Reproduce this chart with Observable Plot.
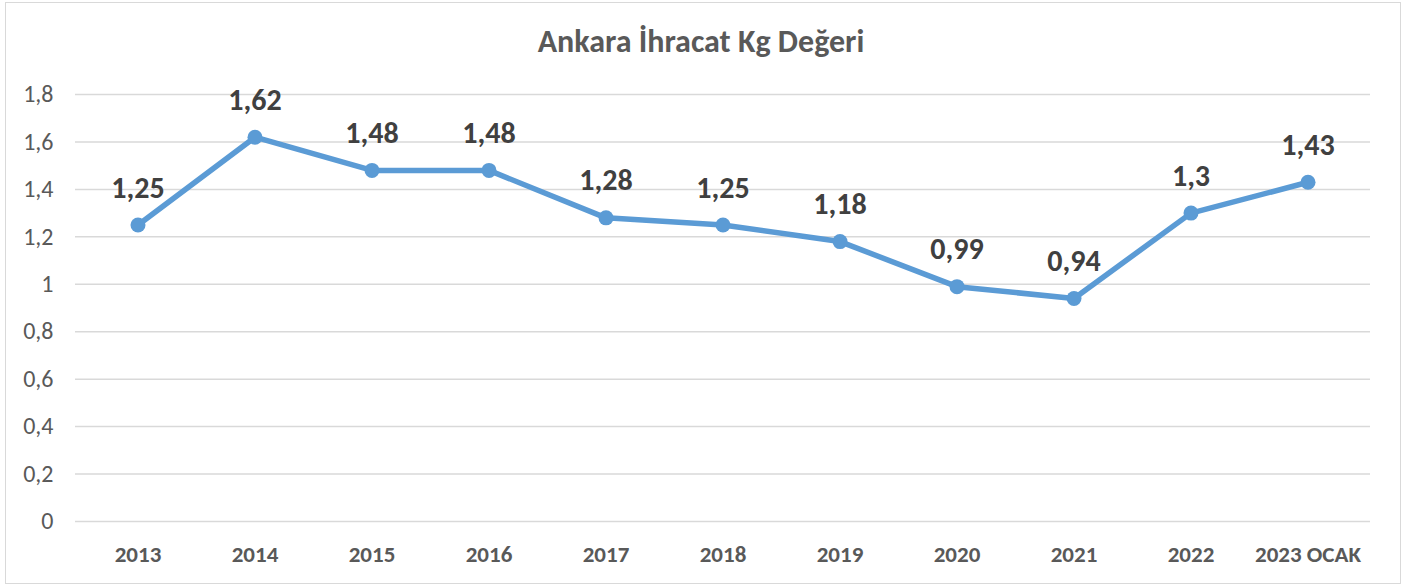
<!DOCTYPE html>
<html>
<head>
<meta charset="utf-8">
<script src="https://cdn.jsdelivr.net/npm/d3@7"></script>
<script src="https://cdn.jsdelivr.net/npm/@observablehq/plot@0.6"></script>
<style>
  html, body { margin: 0; padding: 0; background: #fff; }
  body { width: 1411px; height: 585px; position: relative; overflow: hidden; font-family: Carlito, Lato, "Open Sans", sans-serif; }
  #frame { position: absolute; left: 5px; top: 2px; width: 1396px; height: 582px; border: 1.5px solid #d9d9d9; box-sizing: border-box; }
  #title { position: absolute; left: 0; top: 26px; width: 1402px; text-align: center; font-size: 32px; line-height: 32px; font-weight: 700; color: #595959; }
  #chart { position: absolute; left: 0; top: 60px; }
</style>
</head>
<body>
<div id="frame"></div>
<div id="title">Ankara İhracat Kg Değeri</div>
<div id="chart"></div>
<script>
const categories = ["2013", "2014", "2015", "2016", "2017", "2018", "2019", "2020", "2021", "2022", "2023 OCAK"];
const values = [1.25, 1.62, 1.48, 1.48, 1.28, 1.25, 1.18, 0.99, 0.94, 1.3, 1.43];
const yTicks = [0, 0.2, 0.4, 0.6, 0.8, 1, 1.2, 1.4, 1.6, 1.8];

const data = categories.map((c, i) => ({cat: c, v: values[i]}));
const fmt = d => String(+d.toFixed(2)).replace(".", ",");
const blue = "#5B9BD5";

const chart = Plot.plot({
  width: 1411,
  height: 520,
  marginLeft: 75,
  marginRight: 41,
  marginTop: 34,
  marginBottom: 59,
  style: {fontFamily: 'Carlito, Lato, "Open Sans", sans-serif', background: "transparent"},
  x: {domain: categories, type: "band", label: null, padding: 0},
  y: {domain: [0, 1.8], label: null},
  marks: [
    Plot.gridY(yTicks, {stroke: "#d9d9d9", strokeOpacity: 1, strokeWidth: 1.5}),
    Plot.axisY(yTicks, {tickSize: 0, tickPadding: 22, tickFormat: fmt, fontSize: 24, fill: "#595959", label: null}),
    Plot.axisX({tickSize: 0, tickPadding: 24, fontSize: 23, fontWeight: 700, fill: "#595959", label: null}),
    Plot.line(data, {x: "cat", y: "v", stroke: blue, strokeWidth: 5.5}),
    Plot.dot(data, {x: "cat", y: "v", r: 7.5, fill: blue, stroke: "none"}),
    Plot.text(data, {x: "cat", y: "v", text: d => fmt(d.v), dy: -37, fontSize: 30, fontWeight: 700, fill: "#404040"})
  ]
});
document.getElementById("chart").appendChild(chart);
</script>
</body>
</html>
